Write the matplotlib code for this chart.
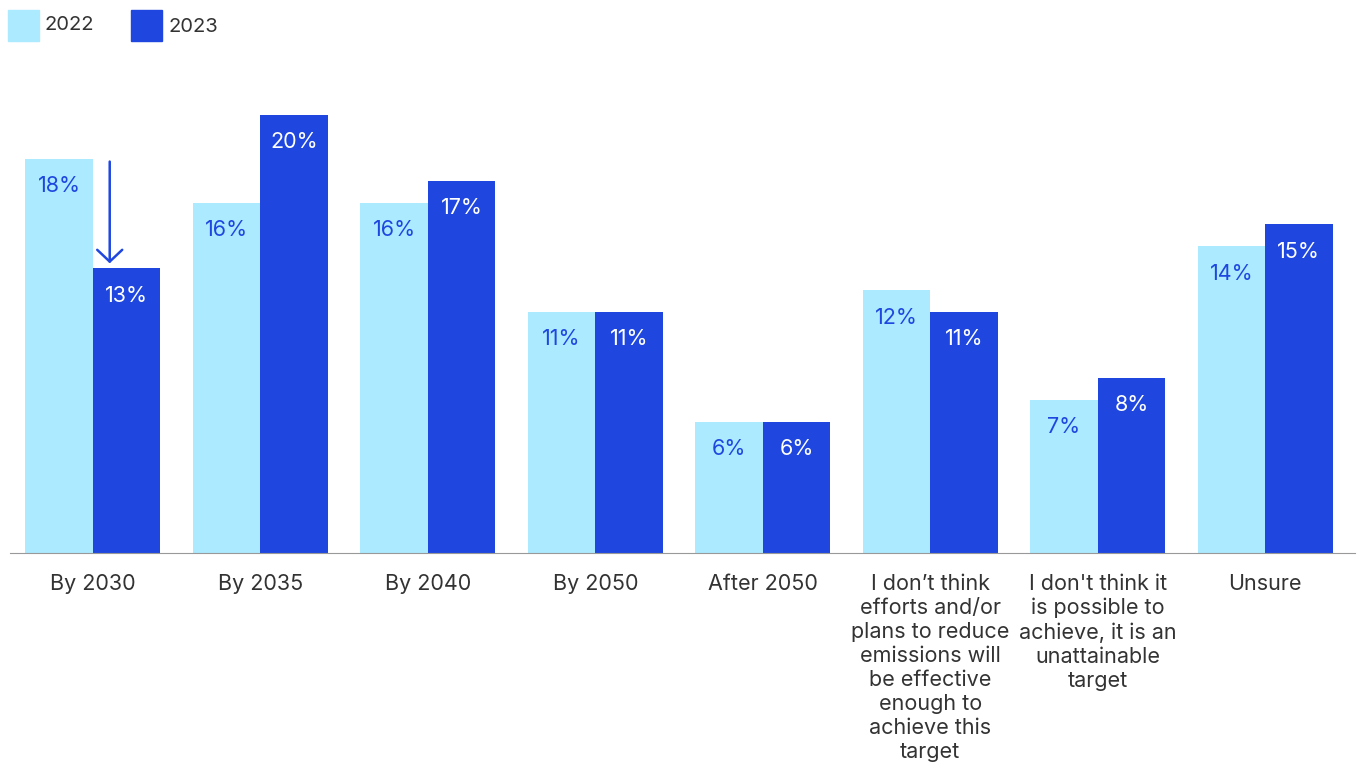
import numpy as np
import matplotlib.pyplot as plt
from matplotlib.patches import Rectangle

plt.rcParams['font.family'] = ['Inter', 'DejaVu Sans']

# Survey answers and shares per year
categories = ["By 2030", "By 2035", "By 2040", "By 2050", "After 2050",
              "I don\u2019t think\nefforts and/or\nplans to reduce\nemissions will\nbe effective\nenough to\nachieve this\ntarget",
              "I don't think it\nis possible to\nachieve, it is an\nunattainable\ntarget",
              "Unsure"]
share_2022 = [18, 16, 16, 11, 6, 12, 7, 14]
share_2023 = [13, 20, 17, 11, 6, 11, 8, 15]

light = "#abeaff"
dark = "#1f47e0"
grey = "#333333"

fig = plt.figure(figsize=(13.62, 7.63), dpi=100)
ax = fig.add_axes([10 / 1362, 210 / 763, 1345 / 1362, 438 / 763])

x = np.arange(len(categories))
w = 0.403
ax.bar(x - w / 2, share_2022, width=w, color=light)
ax.bar(x + w / 2, share_2023, width=w, color=dark)

for xi, v in zip(x, share_2022):
    ax.text(xi - w / 2, v - 1.25, f"{v}%", ha="center", va="center", color=dark, fontsize=15.5)
for xi, v in zip(x, share_2023):
    ax.text(xi + w / 2, v - 1.25, f"{v}%", ha="center", va="center", color="white", fontsize=15.5)

# drop marker for the 2030 answer
ax.annotate("", xy=(0.1, 13.1), xytext=(0.1, 18),
            arrowprops=dict(arrowstyle="->,head_length=0.85,head_width=0.9", color=dark, lw=1.8))

ax.set_xlim(-0.4955, 7.537)
ax.set_ylim(0, 20)
ax.set_xticks(x)
ax.set_xticklabels(categories, fontsize=15.5, color=grey, linespacing=1.25)
ax.tick_params(axis="x", length=0, pad=15)
ax.set_yticks([])
for s in ["top", "right", "left"]:
    ax.spines[s].set_visible(False)
ax.spines["bottom"].set_color("#999999")
ax.spines["bottom"].set_linewidth(0.8)

# legend drawn as figure patches
fig.patches.append(Rectangle((8 / 1362, 1 - 41 / 763), 31 / 1362, 31 / 763, color=light, transform=fig.transFigure))
fig.patches.append(Rectangle((131 / 1362, 1 - 41 / 763), 31 / 1362, 31 / 763, color=dark, transform=fig.transFigure))
fig.text(45 / 1362, 1 - 25 / 763, "2022", fontsize=14.5, color=grey, va="center")
fig.text(168 / 1362, 1 - 27 / 763, "2023", fontsize=14.5, color=grey, va="center")

fig.savefig("out.png", dpi=100)
